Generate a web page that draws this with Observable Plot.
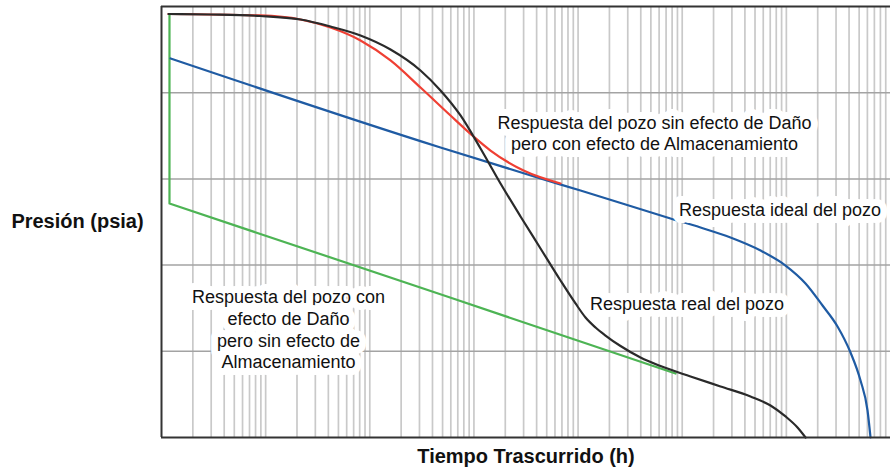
<!DOCTYPE html>
<html>
<head>
<meta charset="utf-8">
<script src="https://cdn.jsdelivr.net/npm/d3@7"></script>
<script src="https://cdn.jsdelivr.net/npm/@observablehq/plot@0.6"></script>
<style>
  html, body { margin: 0; padding: 0; background: white; }
</style>
</head>
<body>
<div id="chart"></div>
<script>
// Axis titles
const yTitle = "Presión (psia)";
const xTitle = "Tiempo Trascurrido (h)";

// Log-grid definition (decades and minor multipliers)
const decadeExponents = [0, 1, 2, 3, 4, 5, 6];
const minorMultipliers = [1, 2, 3, 4, 5, 6, 7, 8, 9];
const yGridValues = [1, 2, 3, 4];

// Real well response (black)
const realX = [1.167, 2.954, 8.926, 21.62, 41.96, 81.45, 158.1, 306.9, 477.7, 743.3, 1157, 1800, 2802, 4359, 6783, 9450, 11790, 14710, 18340, 25560, 39770, 61880, 120200, 233200, 452700, 704500, 982000, 1280000, 1528000];
const realY = [4.913, 4.907, 4.890, 4.849, 4.768, 4.664, 4.501, 4.258, 4.026, 3.736, 3.353, 2.947, 2.564, 2.193, 1.821, 1.555, 1.392, 1.276, 1.183, 1.061, 0.928, 0.829, 0.708, 0.592, 0.476, 0.371, 0.244, 0.116, 0.0];

// No skin, with storage (red)
const storageX = [1.167, 8.926, 21.62, 41.96, 81.45, 158.1, 306.9, 595.9, 990.8, 1443, 2994, 6783];
const storageY = [4.913, 4.896, 4.849, 4.756, 4.606, 4.374, 4.060, 3.735, 3.492, 3.329, 3.097, 2.947];

// Ideal response (blue)
const idealX = [1.22, 477.7, 4359, 10550, 77220, 149900, 290900, 564900, 982000, 1528000, 2225000, 3099000, 4131000, 5153000, 6016000, 6430000];
const idealY = [4.397, 3.364, 3.005, 2.865, 2.541, 2.436, 2.320, 2.169, 1.995, 1.787, 1.531, 1.288, 0.986, 0.661, 0.313, 0.0];

// Skin, no storage (green)
const skinX = [1.193, 1.193, 590, 86270];
const skinY = [4.913, 2.715, 1.624, 0.742];

// Annotation labels
const labelText = [
  "Respuesta del pozo sin efecto de Daño\npero con efecto de Almacenamiento",
  "Respuesta ideal del pozo",
  "Respuesta del pozo con\nefecto de Daño\npero sin efecto de\nAlmacenamiento",
  "Respuesta real del pozo"
];
const labelX = [54200, 869000, 16.58, 111200];
const labelY = [3.538, 2.645, 1.259, 1.555];

const toRows = (xs, ys) => xs.map((x, i) => ({x, y: ys[i]}));
const gridTicks = decadeExponents.flatMap(d => minorMultipliers.map(m => m * 10 ** d)).filter(v => v > 1);
const labels = labelText.map((t, i) => ({t, x: labelX[i], y: labelY[i]}));

const chart = Plot.plot({
  width: 890,
  height: 475,
  marginLeft: 161,
  marginRight: 0,
  marginTop: 6,
  marginBottom: 38,
  x: {type: "log", domain: [1, 1e7], axis: null},
  y: {domain: [0, 5], axis: null},
  style: {fontFamily: "'Liberation Sans', Arial, Helvetica, sans-serif", background: "white"},
  marks: [
    Plot.ruleX(gridTicks, {stroke: "#c9c9c9", strokeWidth: 1.7}),
    Plot.ruleY(yGridValues, {stroke: "#a3a3a3", strokeWidth: 1.5}),
    Plot.line(toRows(skinX, skinY), {x: "x", y: "y", stroke: "#4db454", strokeWidth: 2.2}),
    Plot.line(toRows(idealX, idealY), {x: "x", y: "y", stroke: "#1f5ba3", strokeWidth: 2.2, curve: "monotone-x"}),
    Plot.line(toRows(storageX, storageY), {x: "x", y: "y", stroke: "#ef3f33", strokeWidth: 2.2, curve: "monotone-x"}),
    Plot.line(toRows(realX, realY), {x: "x", y: "y", stroke: "#2a2a2a", strokeWidth: 2.2, curve: "monotone-x"}),
    Plot.text(labels, {x: "x", y: "y", text: "t", fontSize: 18, lineHeight: 1.2, fill: "#111",
      stroke: "white", strokeWidth: 14, strokeLinejoin: "round", paintOrder: "stroke", textAnchor: "middle"}),
    Plot.ruleX([1], {stroke: "#333", strokeWidth: 2}),
    Plot.ruleY([0, 5], {stroke: "#333", strokeWidth: 2}),
    Plot.text([xTitle], {frameAnchor: "bottom", dy: 25, fontSize: 20, fontWeight: "bold", fill: "#111"}),
    Plot.text([yTitle], {frameAnchor: "left", dx: -84, fontSize: 20, fontWeight: "bold", fill: "#111", textAnchor: "middle"})
  ]
});
document.getElementById("chart").appendChild(chart);
</script>
</body>
</html>
